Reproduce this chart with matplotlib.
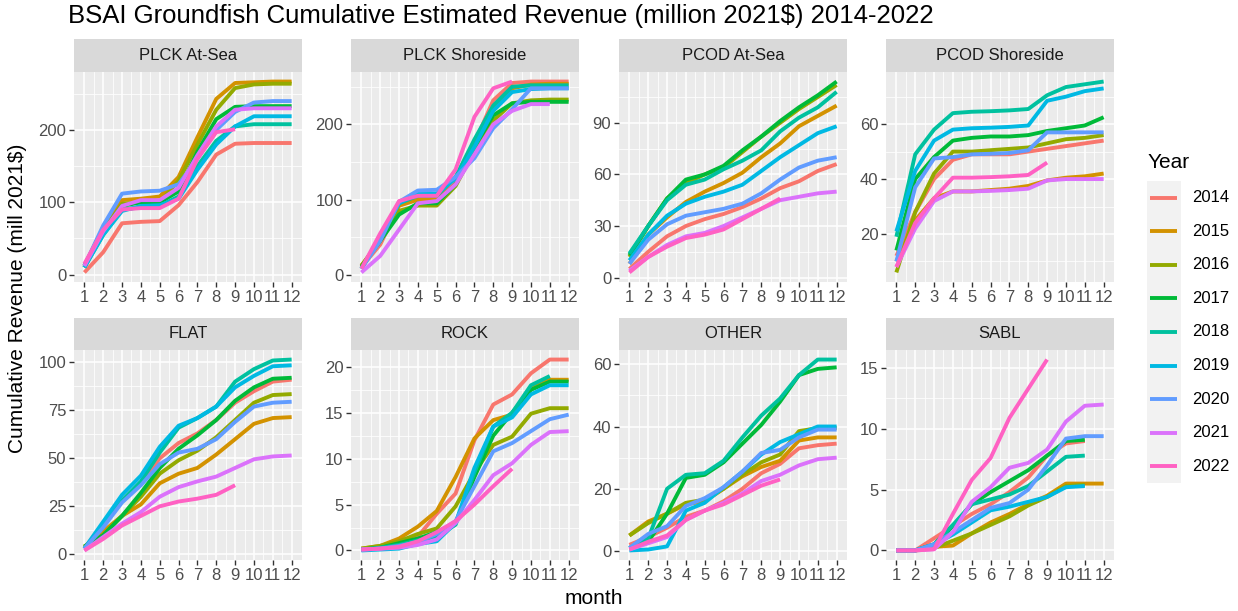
import matplotlib
matplotlib.use("Agg")
import matplotlib.pyplot as plt
import numpy as np

plt.rcParams['font.family'] = ['Liberation Sans', 'DejaVu Sans']

years = ['2014', '2015', '2016', '2017', '2018', '2019', '2020', '2021', '2022']
colors = ['#F8766D', '#D39200', '#93AA00', '#00BA38', '#00C19F',
          '#00B9E3', '#619CFF', '#DB72FB', '#FF61C3']
months = list(range(1, 13))

plck_at_sea = [
    [3, 31, 71, 73, 74, 96, 128, 166, 181, 182, 182, 182],
    [12, 65, 103, 105, 108, 135, 190, 243, 265, 266, 267, 267],
    [10, 60, 98, 100, 100, 130, 180, 228, 258, 263, 264, 264],
    [12, 60, 95, 100, 100, 115, 170, 215, 232, 233, 233, 233],
    [10, 55, 90, 93, 95, 108, 150, 185, 205, 208, 208, 208],
    [10, 55, 88, 95, 96, 105, 145, 180, 205, 219, 219, 219],
    [12, 68, 112, 115, 116, 125, 160, 200, 225, 238, 240, 240],
    [12, 60, 95, 103, 103, 120, 165, 205, 228, 230, 230, 230],
    [15, 62, 90, 92, 92, 105, 160, 197, 201],
]
plck_shoreside = [
    [10, 40, 92, 100, 102, 125, 175, 232, 255, 257, 257, 257],
    [12, 45, 92, 100, 100, 120, 170, 220, 248, 253, 254, 254],
    [12, 45, 85, 92, 92, 118, 165, 205, 228, 232, 233, 233],
    [10, 45, 80, 95, 95, 120, 170, 212, 228, 230, 230, 230],
    [8, 50, 95, 105, 105, 130, 180, 225, 250, 252, 252, 252],
    [8, 50, 95, 108, 108, 128, 170, 218, 243, 247, 248, 248],
    [8, 45, 97, 112, 113, 130, 155, 195, 220, 248, 248, 248],
    [3, 25, 60, 95, 98, 120, 160, 200, 218, 227, 227],
    [8, 55, 98, 105, 105, 140, 210, 248, 257],
]
pcod_at_sea = [
    [5, 15, 24, 30, 34, 37, 41, 46, 52, 56, 62, 66],
    [8, 25, 35, 44, 50, 55, 61, 70, 78, 88, 94, 100],
    [12, 30, 46, 55, 60, 64, 73, 82, 90, 98, 105, 112],
    [13, 30, 46, 57, 60, 65, 74, 82, 91, 99, 106, 114],
    [14, 30, 45, 54, 57, 63, 68, 74, 85, 93, 99, 108],
    [10, 25, 36, 43, 47, 50, 54, 62, 70, 77, 84, 88],
    [8, 22, 31, 36, 38, 40, 43, 49, 57, 64, 68, 70],
    [4, 12, 19, 24, 26, 30, 35, 40, 45, 47, 49, 50],
    [3, 12, 18, 23, 25, 28, 34, 40, 46],
]
pcod_shoreside = [
    [12, 28, 40, 47, 49, 49, 49, 50, 51, 52, 53, 54],
    [10, 25, 33, 35.5, 35.5, 36, 36.5, 37.5, 39.5, 40.5, 41, 42],
    [6, 28, 42, 50, 50, 50.5, 51, 51.5, 53, 54.5, 55, 56],
    [14, 40, 48, 54, 55, 55.5, 55.5, 56, 57.5, 58.5, 59.5, 62.5],
    [19, 49, 58, 64, 64.5, 64.7, 65, 65.5, 70.5, 73.5, 74.5, 75.5],
    [21, 43, 54, 58, 58.5, 58.7, 59, 59.5, 68.5, 70, 72, 73],
    [10, 37, 47.5, 48, 49, 49.2, 49.5, 50.5, 57, 57, 57, 57],
    [8, 22, 32, 35.5, 35.5, 35.7, 36, 36.5, 39.5, 40, 40, 40],
    [8, 24, 33, 40.5, 40.5, 40.7, 41, 41.5, 46],
]
flat = [
    [3, 16, 28, 37, 50, 58, 63, 70, 79, 85, 90, 91],
    [4, 12, 20, 26, 37, 42, 45, 52, 60, 68, 71, 71.5],
    [4, 10, 20, 30, 42, 49, 54, 61, 70, 79, 83, 83.5],
    [4, 10, 20, 32, 45, 55, 62, 70, 80, 87, 91.5, 92],
    [3, 15, 28, 38, 53, 66, 71, 77, 90, 96.5, 101, 101.5],
    [3, 17, 31, 41, 56, 67, 71, 77, 87, 93, 98, 98.5],
    [3, 14, 27, 36, 47, 53, 55, 60, 69, 77, 79, 79.5],
    [2, 9, 16, 22, 30, 35, 38, 40.5, 45, 49.5, 51, 51.5],
    [2, 8, 15, 20, 25, 27.5, 29, 31, 36],
]
rock = [
    [0.1, 0.3, 0.7, 1.5, 4, 6.2, 12, 15.9, 17, 19.3, 20.8, 20.8],
    [0.2, 0.5, 1.3, 2.6, 4.3, 8, 12.2, 14.2, 14.8, 17.7, 18.6, 18.6],
    [0.2, 0.5, 1.0, 1.8, 2.4, 4.8, 8.5, 11.5, 12.4, 14.9, 15.5, 15.5],
    [0.1, 0.3, 0.8, 1.3, 2, 3, 8, 12.5, 15, 17.5, 18.4, 18.4],
    [0.1, 0.3, 0.6, 1.1, 1.5, 2.8, 8.5, 13.5, 15, 18, 19],
    [0, 0.1, 0.2, 0.7, 1, 3, 9, 13.5, 14.5, 17, 18, 18],
    [0.1, 0.2, 0.5, 0.9, 1.8, 3.2, 7, 10.8, 11.7, 13, 14.3, 14.8],
    [0.1, 0.2, 0.3, 0.6, 1.2, 3, 5.5, 8.2, 9.5, 11.5, 12.9, 13],
    [0.1, 0.2, 0.4, 1, 2, 3.2, 5, 7, 8.9],
]
other = [
    [2, 4.5, 7.5, 11, 13, 16, 20, 25, 28, 33, 34, 34.5],
    [5, 9.5, 12, 15, 16, 20, 24, 27, 29, 35.5, 36.5, 36.5],
    [5, 9, 12, 15.5, 16.5, 20, 24.5, 28.5, 31, 38.5, 39.5, 39.5],
    [1, 3, 12, 23.5, 24.5, 28.5, 34.5, 40.5, 48, 56.5, 58.5, 59],
    [1, 4, 20, 24.5, 25, 29, 36.5, 43.5, 49, 56.5, 61.5, 61.5],
    [0.2, 0.5, 1.5, 13, 15.5, 20.5, 25.5, 31, 35, 37.5, 40, 40],
    [1, 5.5, 8, 14.5, 17, 20.5, 25.5, 31.5, 32.5, 36.5, 39, 39],
    [0.5, 2.5, 4.5, 10, 13, 15.5, 18.5, 22.5, 24.5, 27.5, 29.5, 30],
    [0.5, 3, 5, 10, 13, 15, 18, 21, 23],
]
sabl = [
    [0, 0, 1, 2, 3, 3.8, 4.8, 6, 7.8, 8.8, 9],
    [0, 0, 0.3, 0.4, 1.4, 2.3, 3, 3.8, 4.5, 5.5, 5.5, 5.5],
    [0, 0, 0.2, 0.8, 1.4, 2.1, 2.8, 3.7, 4.4, 5.3, 5.4],
    [0, 0, 0.5, 2, 3.8, 4.8, 5.7, 6.6, 7.8, 9, 9.1],
    [0, 0, 0.5, 2.1, 3.8, 4.2, 4.6, 5.3, 6.5, 7.7, 7.8],
    [0, 0, 0.5, 1.3, 2.3, 3.3, 3.6, 4, 4.4, 5.2, 5.3],
    [0, 0, 0.5, 1.5, 2.5, 3.5, 3.9, 5, 7, 9.2, 9.4, 9.4],
    [0, 0, 0.1, 1.5, 4, 5.2, 6.8, 7.2, 8.3, 10.6, 11.9, 12],
    [0, 0, 0.1, 3, 5.8, 7.6, 10.9, 13.3, 15.7],
]

panel_names = ['PLCK At-Sea', 'PLCK Shoreside', 'PCOD At-Sea', 'PCOD Shoreside',
               'FLAT', 'ROCK', 'OTHER', 'SABL']
panel_data = [plck_at_sea, plck_shoreside, pcod_at_sea, pcod_shoreside,
              flat, rock, other, sabl]
panel_yticks = [[0, 100, 200], [0, 100, 200], [0, 30, 60, 90], [20, 40, 60],
                [0, 25, 50, 75, 100], [0, 5, 10, 15, 20], [0, 20, 40, 60],
                [0, 5, 10, 15]]

W, H = 1238, 611
fig = plt.figure(figsize=(W / 100, H / 100), dpi=100)
fig.patch.set_facecolor('white')

col_left = [74, 351, 619, 886]
pw = 228
rows = [(39, 72, 282), (318, 350, 560)]  # strip top, panel top, panel bottom


def fx(px):
    return px / W


def fy(py):
    return 1 - py / H


for k, (name, data, yt) in enumerate(zip(panel_names, panel_data, panel_yticks)):
    r, c = divmod(k, 4)
    st, pt, pb = rows[r]
    x0 = col_left[c]
    ax = fig.add_axes([fx(x0), fy(pb), pw / W, (pb - pt) / H])
    ax.set_facecolor('#EBEBEB')
    for sp in ax.spines.values():
        sp.set_visible(False)
    for s, col in zip(data, colors):
        ax.plot(months[:len(s)], s, color=col, linewidth=2.8,
                solid_capstyle='butt', solid_joinstyle='round', zorder=3)
    ax.set_xticks(months)
    ax.set_xticklabels([str(m) for m in months])
    ax.set_yticks(yt)
    ax.set_yticklabels([str(v) for v in yt])
    ax.set_xticks([m + 0.5 for m in months[:-1]], minor=True)
    ys = [(yt[i] + yt[i + 1]) / 2 for i in range(len(yt) - 1)]
    step = yt[1] - yt[0]
    ys = [yt[0] - step / 2] + ys + [yt[-1] + step / 2]
    ax.set_yticks(ys, minor=True)
    allv = [v for s in data for v in s]
    lo, hi = min(allv), max(allv)
    pad = 0.05 * (hi - lo)
    ax.set_ylim(lo - pad, hi + pad)
    ax.set_xlim(1 - 0.55, 12 + 0.55)
    ax.grid(which='major', color='white', linewidth=1.1)
    ax.grid(which='minor', color='white', linewidth=0.55)
    ax.set_axisbelow(True)
    ax.tick_params(which='major', length=3.5, width=1.0, color='#333333',
                   labelsize=12, labelcolor='#4D4D4D', pad=2)
    ax.tick_params(which='minor', length=0)
    sax = fig.add_axes([fx(x0), fy(pt), pw / W, (pt - st) / H])
    sax.set_facecolor('#D9D9D9')
    sax.set_xticks([])
    sax.set_yticks([])
    for sp in sax.spines.values():
        sp.set_visible(False)
    sax.text(0.5, 0.5, name, ha='center', va='center', fontsize=12,
             color='#1A1A1A', transform=sax.transAxes)

fig.text(fx(68), fy(16), 'BSAI Groundfish Cumulative Estimated Revenue (million 2021$) 2014-2022',
         ha='left', va='center', fontsize=18.5, color='black')
fig.text(fx(18), fy(298), 'Cumulative Revenue (mill 2021$)', rotation=90,
         ha='center', va='center', fontsize=15, color='black')
fig.text(fx(594), fy(599), 'month', ha='center', va='center', fontsize=15,
         color='black')

# legend
lax = fig.add_axes([fx(1147), fy(483), 34 / W, (483 - 181) / H])
lax.set_facecolor('#F2F2F2')
for sp in lax.spines.values():
    sp.set_visible(False)
lax.set_xticks([])
lax.set_yticks([])
lax.set_xlim(0, 1)
lax.set_ylim(len(years) - 0.5, -0.5)
for i, (yr, col) in enumerate(zip(years, colors)):
    lax.plot([0.09, 0.88], [i, i], color=col, linewidth=2.8, solid_capstyle='butt')
    lax.text(1.32, i, yr, ha='left', va='center', fontsize=12, color='black')
fig.text(fx(1148), fy(162), 'Year', ha='left', va='center', fontsize=15, color='black')

fig.savefig('out.png', dpi=100)
